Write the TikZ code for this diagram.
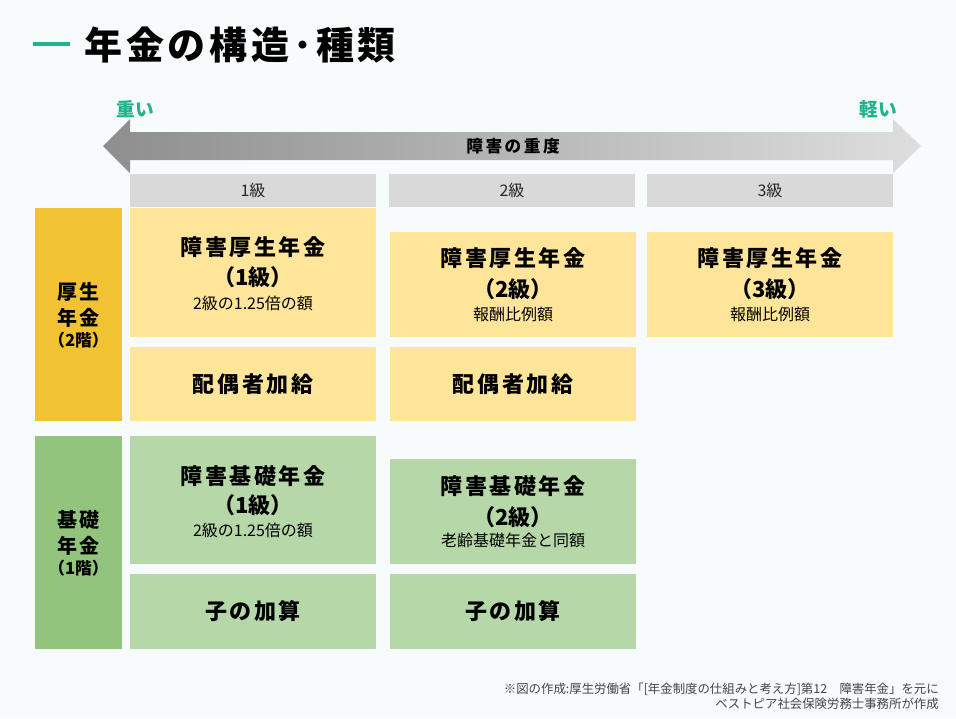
\documentclass[tikz,border=0pt]{standalone}
\usepackage{fontspec}
\setmainfont{Noto Sans CJK JP}
\usetikzlibrary{calc}
\definecolor{bgc}{HTML}{F7FBFC}
\definecolor{teal}{HTML}{20B48C}
\definecolor{arrL}{HTML}{8E8E8E}
\definecolor{arrR}{HTML}{DEDEDE}
\definecolor{hdrgray}{HTML}{D9D9D9}
\definecolor{ylwlab}{HTML}{F1C232}
\definecolor{ylwcell}{HTML}{FFE599}
\definecolor{grnlab}{HTML}{93C47D}
\definecolor{grncell}{HTML}{B6D7A8}
\definecolor{notegray}{HTML}{444444}
\def\lsp#1{\addfontfeatures{LetterSpace=#1}}
\tikzset{
  cell/.style 2 args={anchor=north west, inner sep=0pt, outer sep=0pt,
    minimum width=#1*0.75pt, minimum height=#2*0.75pt},
  big/.style={font=\fontsize{16.5}{18}\selectfont\bfseries\lsp{12}, inner sep=0pt},
  grade/.style={font=\fontsize{16.5}{18}\selectfont\bfseries, inner sep=0pt},
  sub/.style={font=\fontsize{12}{13}\selectfont, inner sep=0pt},
  lab/.style={font=\fontsize{15}{16}\selectfont\bfseries\lsp{8}, inner sep=0pt},
  floor/.style={font=\fontsize{12.5}{13}\selectfont\bfseries, inner sep=0pt},
  hdr/.style={font=\fontsize{12}{13}\selectfont, text=black!85},
  note/.style={anchor=east, inner sep=0pt, text=notegray, font=\fontsize{9.3}{10}\selectfont}
}
\begin{document}
\begin{tikzpicture}[x=0.75pt, y=-0.75pt]
			%%%%% START %%%%%
			
			\fill[bgc] (0,0) rectangle (956,718);
			\useasboundingbox (0,0) rectangle (956,718);
			
			\draw[teal, line width=2.8pt] (33,44) -- (70,44);
			\node[anchor=west, inner sep=0pt, font=\fontsize{28.5}{30}\selectfont\bfseries\lsp{10}] (title) at (84,45) {年金の構造･種類};
			
			\node[text=teal, font=\fontsize{14}{15}\selectfont\bfseries] (heavy) at (135,109) {重い};
			\node[text=teal, font=\fontsize{14}{15}\selectfont\bfseries] (light) at (878,109) {軽い};
			
			\shade[left color=arrL, right color=arrR] (103,146) -- (130,119) -- (130,132) -- (893,132) -- (893,119) -- (921,146) -- (893,173) -- (893,160) -- (130,160) -- (130,173) -- cycle;
			\node[font=\fontsize{12.5}{13}\selectfont\bfseries\lsp{15}] (sev) at (513,146) {障害の重度};
			
			\node[cell={246}{33}, fill=hdrgray, hdr] (g1) at (130,174) {1級};
			\node[cell={246}{33}, fill=hdrgray, hdr] (g2) at (389,174) {2級};
			\node[cell={246}{33}, fill=hdrgray, hdr] (g3) at (647,174) {3級};
			
			% 2階
			\node[cell={87}{213}, fill=ylwlab] (kosei) at (35,208) {};
			\node[lab] (kosei-a) at ($(kosei.center)+(0,-22.5)$) {厚生};
			\node[lab] (kosei-b) at ($(kosei.center)+(0,3)$) {年金};
			\node[floor] (kosei-c) at ($(kosei.center)+(0,26)$) {（2階）};
			
			\node[cell={246}{129}, fill=ylwcell] (k1) at (130,208) {};
			\node[big] (k1-a) at ($(k1.center)+(0,-25)$) {障害厚生年金};
			\node[grade] (k1-b) at ($(k1.center)+(0,5)$) {（1級）};
			\node[sub] (k1-c) at ($(k1.center)+(0,31)$) {2級の1.25倍の額};
			\node[cell={246}{74}, fill=ylwcell, big] (k1add) at (130,347) {配偶者加給};
			
			\node[cell={246}{105}, fill=ylwcell] (k2) at (390,232) {};
			\node[big] (k2-a) at ($(k2.center)+(0,-26)$) {障害厚生年金};
			\node[grade] (k2-b) at ($(k2.center)+(0,5)$) {（2級）};
			\node[sub] (k2-c) at ($(k2.center)+(0,30)$) {報酬比例額};
			\node[cell={246}{74}, fill=ylwcell, big] (k2add) at (390,347) {配偶者加給};
			
			\node[cell={246}{105}, fill=ylwcell] (k3) at (647,232) {};
			\node[big] (k3-a) at ($(k3.center)+(0,-26)$) {障害厚生年金};
			\node[grade] (k3-b) at ($(k3.center)+(0,5)$) {（3級）};
			\node[sub] (k3-c) at ($(k3.center)+(0,30)$) {報酬比例額};
			
			% 1階
			\node[cell={87}{213}, fill=grnlab] (kiso) at (35,436) {};
			\node[lab] (kiso-a) at ($(kiso.center)+(0,-22.5)$) {基礎};
			\node[lab] (kiso-b) at ($(kiso.center)+(0,3)$) {年金};
			\node[floor] (kiso-c) at ($(kiso.center)+(0,26)$) {（1階）};
			
			\node[cell={246}{128}, fill=grncell] (b1) at (130,436) {};
			\node[big] (b1-a) at ($(b1.center)+(0,-24)$) {障害基礎年金};
			\node[grade] (b1-b) at ($(b1.center)+(0,5)$) {（1級）};
			\node[sub] (b1-c) at ($(b1.center)+(0,30.5)$) {2級の1.25倍の額};
			\node[cell={246}{75}, fill=grncell, big] (b1add) at (130,574) {子の加算};
			
			\node[cell={246}{105}, fill=grncell] (b2) at (390,459) {};
			\node[big] (b2-a) at ($(b2.center)+(0,-25)$) {障害基礎年金};
			\node[grade] (b2-b) at ($(b2.center)+(0,6)$) {（2級）};
			\node[sub] (b2-c) at ($(b2.center)+(0,29)$) {老齢基礎年金と同額};
			\node[cell={246}{75}, fill=grncell, big] (b2add) at (390,574) {子の加算};
			
			\node[note] (note1) at (939,689) {※図の作成:厚生労働省「[年金制度の仕組みと考え方]第12　障害年金」を元に};
			\node[note] (note2) at (939,704) {ベストピア社会保険労務士事務所が作成};
			
			%%%%% END %%%%%
\end{tikzpicture}
\end{document}
